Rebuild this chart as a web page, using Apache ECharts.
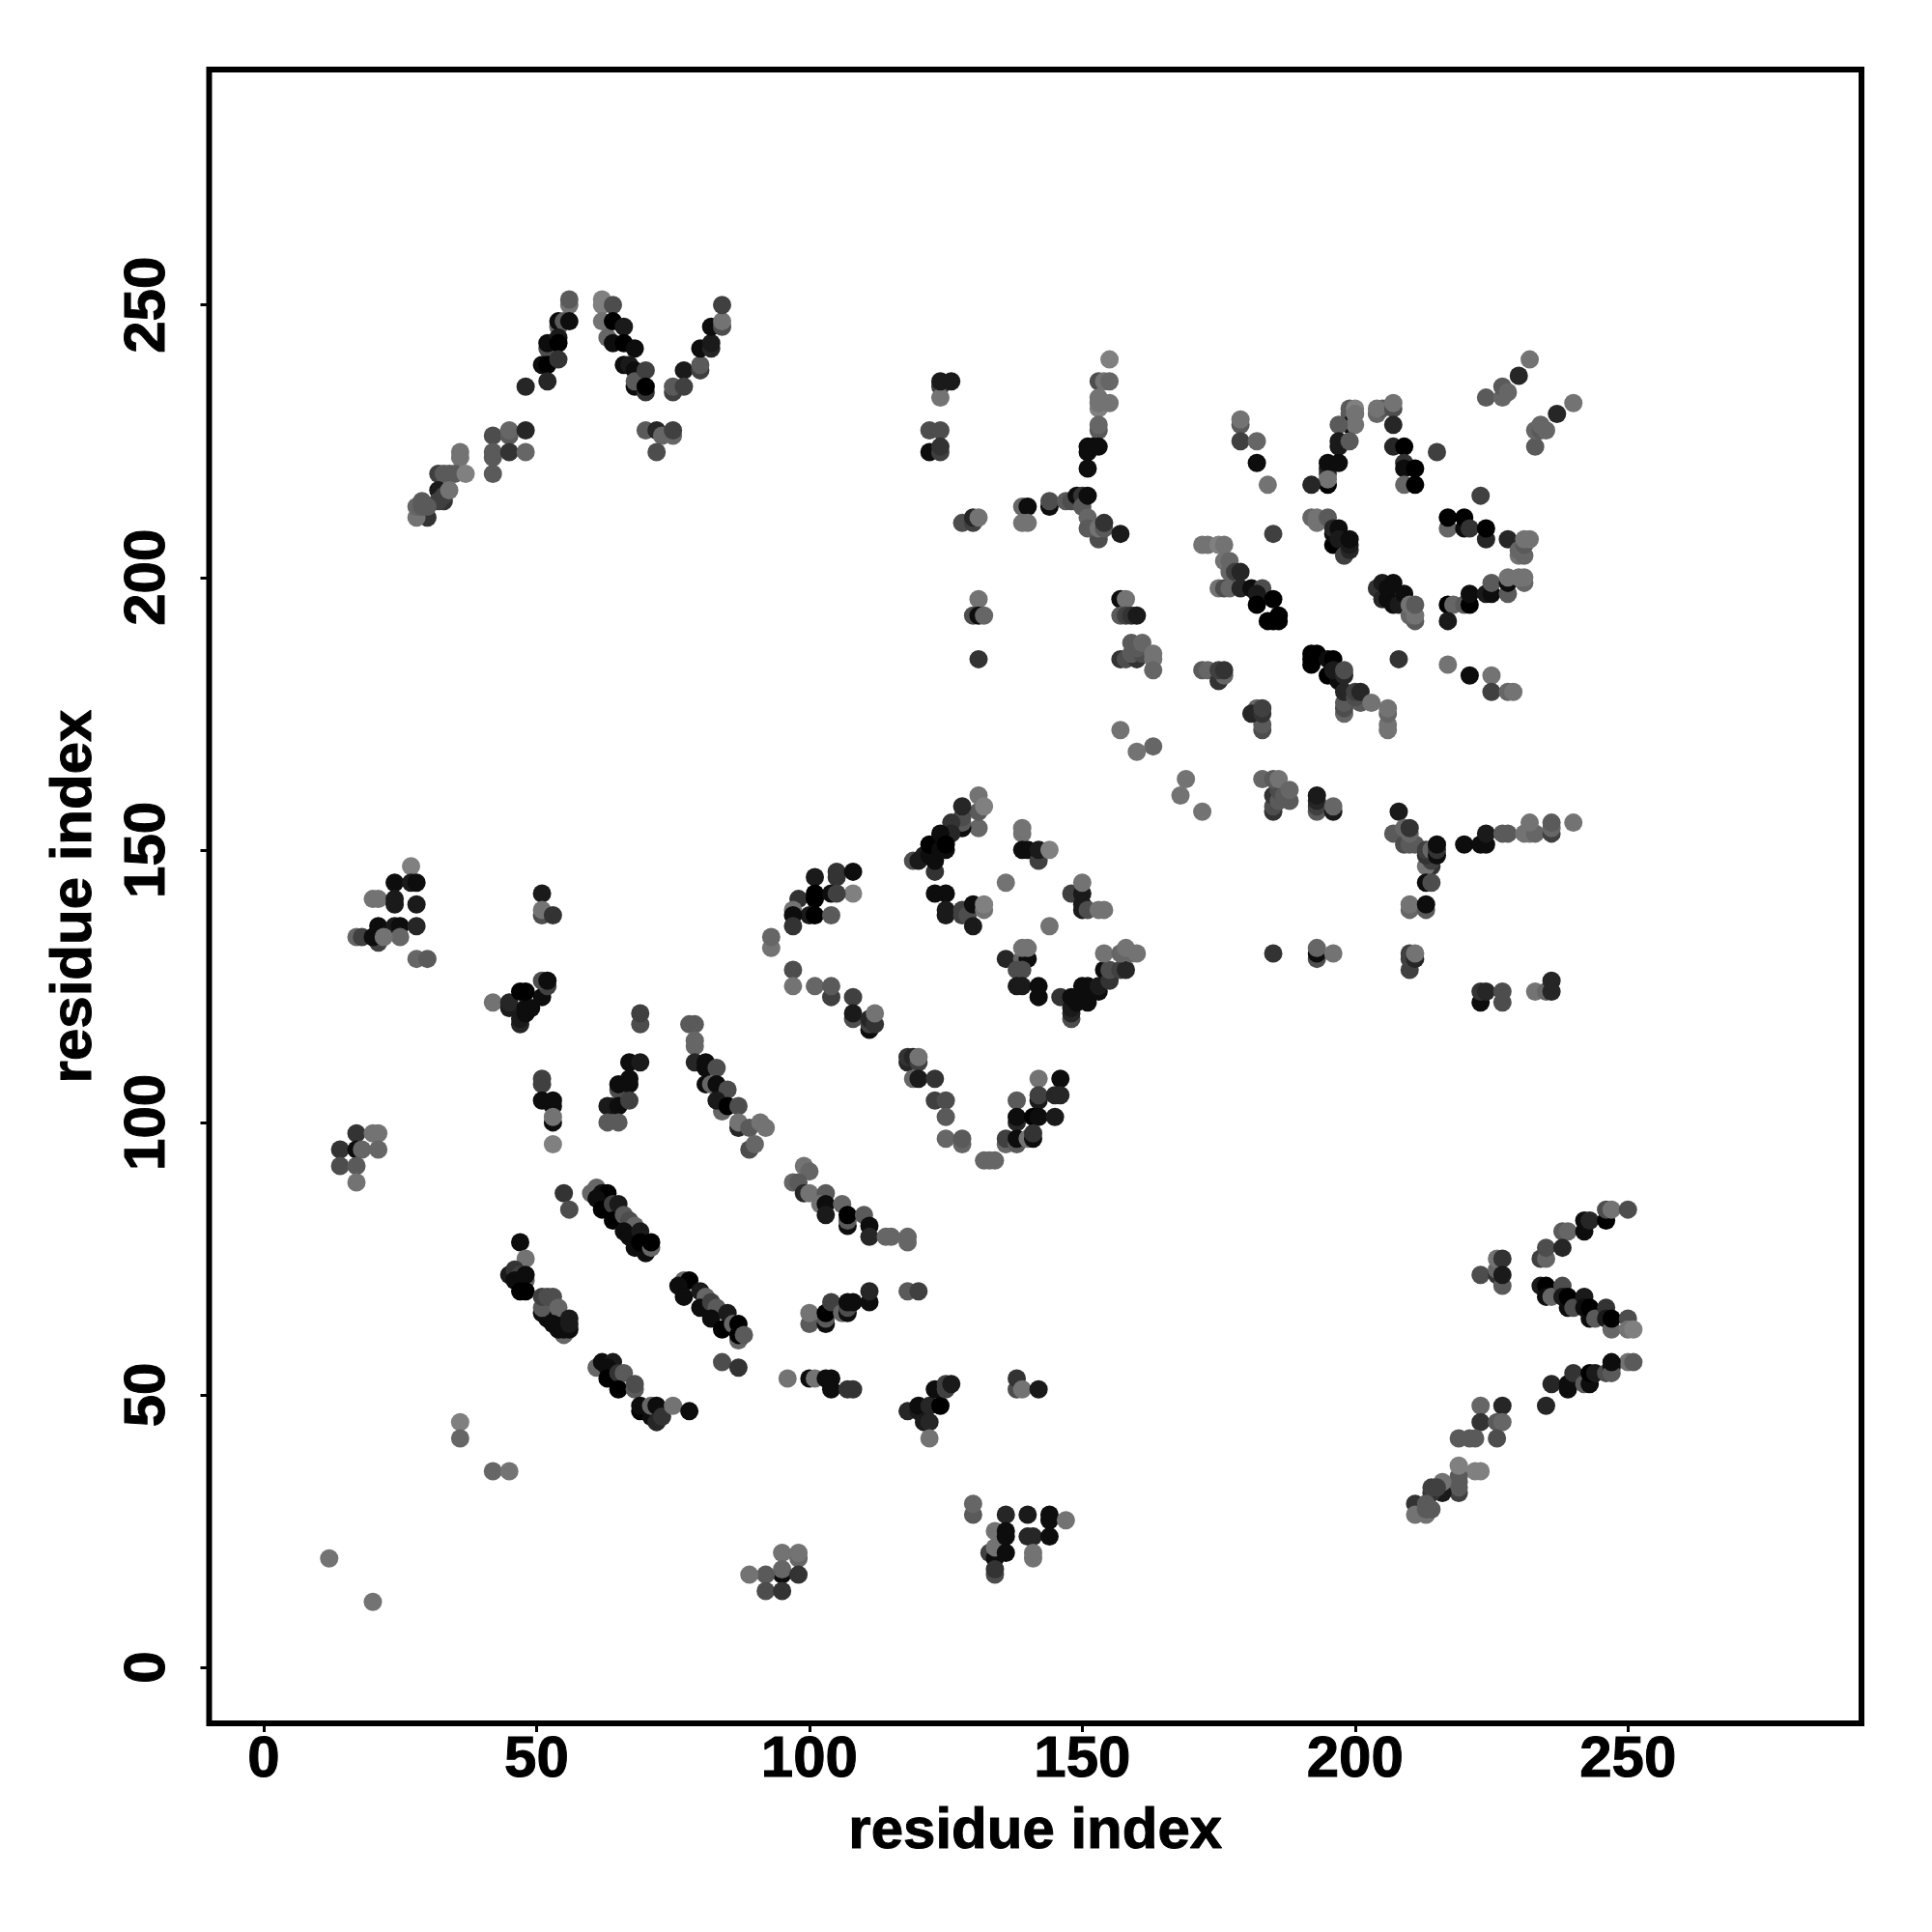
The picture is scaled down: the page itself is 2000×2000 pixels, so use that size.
<!DOCTYPE html>
<html><head><meta charset="utf-8">
<style>html,body{margin:0;padding:0;background:#fff}#c{width:2000px;height:2000px}</style>
<script src="https://cdn.jsdelivr.net/npm/echarts@6/dist/echarts.min.js"></script>
</head><body><div id="c"></div>
<script>
// each contact: [residue x, residue y, strength 0..10]
const topLeft=[[56,250,1],[56,251,3],[54,246,2],[54,247,9],[55,247,3],[56,247,9],[52,242,4],[52,243,9],[54,244,8],[54,243,10],[51,239,9],[52,239,10],[54,240,6],[52,236,7],[48,235,7],
[62,251,0],[62,250,0],[64,250,4],[62,247,1],[63,244,2],[64,243,9],[64,247,10],[66,246,8],[66,243,10],[68,242,9],[66,239,9],[67,239,8],[68,238,9],[68,235,9],[68,236,3],[70,238,5],[70,234,6],[70,235,10],
[75,234,5],[75,235,3],[77,238,8],[77,235,5],[80,238,5],[80,239,3],[80,242,9],[82,242,7],[82,243,8],[82,246,9],[84,246,4],[84,247,1],[84,250,5],
[70,227,3],[72,227,7],[73,226,2],[75,226,2],[75,227,5],[72,223,4],
[42,226,4],[45,226,3],[45,227,2],[48,227,7],[42,222,3],[42,223,3],[45,223,6],[48,223,2],[42,219,3],
[36,222,1],[36,223,1],[32,219,5],[33,219,3],[34,219,3],[35,219,3],[37,219,0],
[32,216,8],[33,214,6],[32,214,5],[33,215,5],[34,216,1],[30,211,6],[28,211,1],[30,213,3],[28,213,2],[29,213,3],[29,214,3]];
const topMid=[[124,235,5],[124,233,1],[124,236,8],[126,236,8],[122,227,4],[124,227,4],[122,223,9],[124,223,5],[124,224,6],
[155,240,0],[153,236,4],[154,236,1],[155,236,2],[153,231,0],[153,232,1],[153,233,1],[155,232,1],[153,227,3],[153,228,2],
[151,223,9],[151,224,9],[152,224,9],[153,224,9],[151,220,9],
[144,213,9],[144,214,4],[147,214,3],[148,214,4],[149,215,9],[150,215,6],[150,213,3],[151,215,9],
[139,213,2],[140,213,9],[139,210,1],[140,210,1],[128,210,4],[130,210,5],[130,211,7],[131,211,1],
[153,207,4],[151,211,2],[151,209,3],[153,209,1],[154,209,3],[154,210,6],[157,208,8],
[172,206,1],[173,206,1],[175,206,0],[176,206,1],[176,203,1],[177,203,2],[177,201,2],[175,198,1],[176,198,4],[177,198,2],[178,201,5],[179,198,7],[179,201,7],
[181,198,9],[183,198,4],[182,197,8],[182,195,10],[185,196,10],[184,192,10],[185,192,10],[186,192,10],[186,193,10],
[179,228,3],[179,229,1],[179,225,5],[182,225,2],[182,221,9],[184,217,1],[185,208,5],
[131,196,1],[130,193,4],[131,193,9],[132,193,2],[131,185,6],
[157,196,9],[158,196,1],[157,193,3],[158,193,5],[159,193,6],[160,193,8],
[157,185,6],[158,185,4],[160,185,6],[159,186,3],[161,186,4],[160,187,3],[159,188,3],[161,188,2],[163,186,1],[163,185,1],[163,183,2],
[172,183,3],[173,183,2],[175,181,6],[176,182,2],[175,183,5],[176,183,6],
[182,176,2],[183,172,4],[183,173,3],[181,175,7],[183,175,6],[183,176,5],[157,172,1],[163,169,2],[160,168,1]];
const topRight=[[230,237,7],[232,240,1],[224,233,3],[227,233,2],[227,235,3],[228,234,2],
[237,230,7],[240,232,1],[233,224,3],[233,227,2],[234,227,3],[235,227,2],[234,228,2],
[199,231,3],[199,230,3],[199,228,9],[200,231,0],[200,230,1],[200,228,1],[197,228,3],[197,224,8],[197,225,8],[199,225,3],
[195,217,10],[195,219,4],[195,220,7],[195,221,9],[197,221,9],[195,218,1],[192,217,7],
[204,230,2],[205,231,3],[204,231,1],[207,231,4],[207,232,1],[207,228,7],
[207,224,7],[209,224,10],[209,221,6],[209,220,9],[211,220,10],[209,217,2],[211,217,10],[215,223,5],[223,215,5],
[192,211,2],[193,210,1],[193,211,1],[195,211,3],[196,206,10],[196,208,9],[196,209,7],[197,209,9],[197,207,8],[198,204,5],[199,205,7],[199,206,8],[199,207,9],
[217,209,2],[217,211,10],[220,209,9],[220,211,10],[221,209,6],[224,207,7],[224,209,10],[228,207,7],[230,204,1],[231,204,2],[230,205,2],[231,206,3],[231,207,1],[232,207,1],
[204,198,6],[205,199,8],[205,196,7],[206,198,9],[206,196,9],[207,195,9],[207,199,9],[208,195,8],[209,197,9],[211,192,3],[210,193,2],[211,193,1],[210,195,1],[211,195,3],
[217,195,10],[218,195,2],[217,192,8],[220,195,3],[221,195,10],[221,197,9],[224,197,8],[225,197,9],[225,199,3],[228,197,3],[228,199,9],[228,200,1],[231,199,2],[230,200,1],[231,200,1],
[192,184,10],[192,185,10],[192,186,10],[193,186,10],[195,185,9],[196,185,10],[195,182,10],[197,181,9],[196,183,8],[198,175,2],[198,176,4],[198,177,3],[198,179,7],[198,182,7],[198,183,4],
[201,177,3],[200,178,4],[200,179,5],[201,179,7],[203,177,1],[206,172,1],[206,173,1],[206,175,2],[206,176,1],[208,185,6],
[217,184,1],[221,182,9],[225,182,1],[225,179,5],[228,179,2],[229,179,1]];
const midLeft=[[27,147,0],[24,144,9],[27,144,8],[28,144,9],[20,141,1],[21,141,1],[24,140,8],[24,141,8],[28,140,8],
[21,136,9],[24,136,8],[25,136,9],[28,136,7],[17,134,2],[18,134,5],[21,133,5],[20,134,9],[25,134,2],[22,134,1],[28,130,2],[30,130,3],
[51,142,8],[51,138,4],[51,139,1],[53,138,6],
[42,122,1],[47,118,7],[47,119,8],[45,121,8],[45,122,7],[48,120,9],[48,121,9],[49,121,9],[47,124,10],[48,124,10],[51,123,9],[52,125,5],[51,126,4],[52,126,9],
[69,118,4],[69,120,5],[78,118,3],[79,118,3],[79,114,2],[79,115,2],
[79,111,7],[81,111,9],[81,110,9],[83,110,4],[81,107,9],[82,107,2],[83,107,9],[85,106,4],[84,102,2],[83,104,8],[85,103,10],[87,103,4],[87,99,7],[87,100,1],[89,99,3],[89,95,4],[90,96,2],[91,100,1],[92,99,1],
[93,132,1],[93,134,2],
[67,111,9],[69,111,8],[65,106,4],[65,107,9],[67,107,9],[67,108,9],[64,103,4],[63,103,8],[65,103,9],[67,104,5],[63,100,3],[65,100,3],
[51,107,5],[51,108,5],[51,104,9],[53,103,9],[53,104,9],[53,100,9],[53,101,1],[53,96,0],
[17,98,6],[20,98,1],[21,98,1],[14,95,6],[17,95,9],[18,95,2],[21,95,2],[14,92,4],[17,92,3],[17,89,1],
[55,87,6],[56,84,4],
[60,87,2],[61,88,2],[62,87,9],[63,87,10],[61,86,9],[62,84,10],[64,85,5],[65,85,8],[64,82,10],[66,83,3],[67,82,4],[68,81,2],[66,80,9],[67,79,9],[69,80,8],[68,77,9],[70,76,9],[69,78,10],[71,77,2],[71,78,10],[47,78,9]];
const midCenter=[[131,154,2],[131,157,3],[131,160,1],[132,158,0],
[128,154,9],[128,155,3],[128,156,4],[128,158,7],[126,155,6],[126,153,7],[119,148,4],[120,148,8],[121,149,8],[122,149,9],[123,146,6],[123,148,9],[122,151,10],[124,152,10],[124,153,9],[124,150,9],[125,150,9],[125,151,10],
[139,153,1],[139,154,1],[139,150,9],[140,150,9],[142,148,5],[142,150,8],[144,150,0],[136,144,1],
[148,142,5],[150,142,8],[150,144,1],[150,139,8],[150,140,8],[151,139,4],[153,139,1],[154,139,1],[144,136,1],
[169,163,1],[168,160,1],[172,157,1],
[185,157,6],[185,158,4],[185,160,6],[186,159,3],[186,161,4],[187,160,3],[183,163,2],[185,163,3],[186,163,1],[188,159,3],[188,161,2],
[101,145,8],[105,145,6],[105,146,6],[108,146,9],[108,142,0],[98,141,6],[97,139,1],[101,141,10],[101,142,10],[104,142,9],[105,142,5],[100,138,8],[101,138,10],[97,138,9],[104,138,3],[97,136,6],
[123,142,9],[125,142,9],[125,138,8],[125,139,8],[128,138,5],[128,139,5],[129,138,4],[130,136,8],[130,140,9],[132,139,1],[132,140,0],
[136,130,7],[139,130,2],[140,130,9],[139,132,1],[140,132,1],[138,128,4],[139,128,4],[138,125,8],[139,125,8],[142,123,9],[142,125,9],
[146,123,6],[148,119,4],[148,120,7],[148,121,8],[148,123,9],[149,122,9],[151,122,9],[150,125,9],[151,125,9],[153,124,9],[153,125,8],[154,128,9],[155,126,6],[155,128,4],[157,128,5],[158,128,7],
[154,131,1],[157,131,2],[159,131,2],[158,132,1],[160,131,1],[185,131,6],
[97,128,4],[97,125,1],[101,125,2],[104,123,5],[104,125,3],[108,123,5],[108,119,4],[108,120,8],[111,117,9],[111,118,5],[111,119,7],[112,118,6],[112,120,1],
[118,111,7],[118,112,6],[119,112,7],[120,111,5],[120,112,1],[119,108,2],[120,108,8],[123,108,6],
[123,104,5],[125,104,4],[125,101,3],[125,97,2],[128,96,2],[128,97,3],[132,93,2],[133,93,2],[134,93,2],
[142,108,1],[146,108,9],[142,104,8],[142,105,5],[145,105,7],[146,105,7],[138,104,3],[138,100,7],[138,101,9],[141,101,10],[142,101,9],[145,101,8],
[136,96,2],[136,97,5],[138,96,3],[138,97,9],[140,97,1],[141,97,9],[141,98,6],
[99,92,1],[100,91,2],[97,89,2],[98,89,3],[99,87,7],[100,87,1],[103,87,3],[102,85,1],[103,85,9],[103,83,8],[106,85,2],[107,81,9],[107,82,3],[107,83,10],[110,83,3],[111,81,9],[111,79,7],[114,79,2],[115,79,2],[118,78,2],[118,79,2]];
const midRight=[[193,157,3],[193,158,5],[193,159,7],[193,160,8],[196,157,8],[196,158,2],
[208,157,8],[207,153,3],[209,151,4],[210,151,3],[211,151,3],[209,154,2],[210,153,2],[210,154,6],
[214,147,6],[213,147,1],[214,148,5],[213,149,6],[213,150,5],[214,150,2],[215,149,9],[215,150,6],[215,151,9],
[213,144,9],[214,144,4],[210,139,2],[210,140,1],[213,139,3],[213,140,9],
[220,151,9],[223,151,9],[224,151,9],[224,153,8],[227,153,3],[228,153,3],[231,153,1],[232,153,1],[233,153,2],[232,155,1],[236,153,5],[236,154,2],[236,155,3],[240,155,1],
[193,130,4],[193,131,9],[193,132,2],[196,131,1],
[210,128,5],[210,130,5],[210,131,5],[211,130,7],[211,131,1],
[223,122,9],[223,124,6],[224,124,7],[227,122,4],[227,124,4],[233,124,1],[235,124,2],[236,126,7],[236,124,7],
[238,80,3],[239,80,2],[242,80,9],[242,82,9],[243,82,7],[246,82,10],[246,84,4],[247,84,1],[250,84,4]];
const lowLeft=[[48,75,1],[45,72,8],[46,73,6],[47,72,5],[48,71,2],[48,72,9],[46,71,9],[47,69,10],[48,69,10],
[52,64,9],[54,63,9],[51,65,9],[51,66,3],[51,68,5],[52,68,4],[53,68,4],[54,66,2],[53,63,9],[55,61,2],[54,62,9],[55,62,9],[56,62,9],[56,63,8],[56,64,8],
[77,71,2],[78,71,10],[76,70,9],[77,68,9],[80,69,8],[81,68,2],[80,66,9],[82,67,5],[83,66,3],[82,64,9],[85,65,8],[84,62,10],[86,63,2],[87,60,2],[87,63,10],[87,61,10],[88,61,3],
[84,56,4],[87,55,6],[96,53,1],
[61,55,2],[62,56,9],[64,56,8],[63,55,9],[63,53,10],[65,54,6],[66,54,3],[65,51,10],[68,51,3],[68,52,4],
[69,47,10],[69,48,9],[71,46,9],[71,48,2],[72,45,7],[72,48,9],[73,46,6],[75,48,1],[78,47,9],
[36,45,0],[36,42,2],[42,36,2],[45,36,1],[12,20,1],[20,12,1],
[95,21,1],[95,17,9],[95,18,2],[92,17,3],[89,17,1],[92,14,4],[95,14,6]];
const lowMid=[[98,20,2],[98,21,1],[98,17,6],
[100,63,3],[100,65,1],[103,63,9],[103,64,3],[103,65,10],[104,67,5],[106,65,2],[107,65,9],[107,66,4],[107,67,9],[108,67,9],[111,67,9],[111,69,7],[118,69,3],[120,69,5],
[100,53,9],[101,53,1],[103,53,9],[104,53,9],[104,51,9],[107,51,6],[108,51,6],
[118,47,7],[120,47,8],[120,48,9],[122,48,7],[124,48,10],[123,51,9],[125,52,5],[125,51,5],[126,52,8],[121,45,8],[122,45,7],[122,42,1],
[138,51,4],[138,53,6],[139,51,1],[142,51,8],
[130,28,3],[130,30,2],[136,28,7],[140,28,8],[144,27,9],[144,28,9],[147,27,1],
[134,25,1],[133,21,5],[134,20,9],[134,22,1],[136,25,9],[136,24,9],[136,21,9],[140,24,7],[141,24,7],[144,24,9],[141,20,1],[141,21,1],
[134,17,4],[134,18,6]];
const lowRight=[[223,72,4],[226,72,6],[226,73,2],[226,75,1],[227,75,6],[227,70,3],[227,72,8],
[234,75,5],[235,75,2],[235,77,4],[238,77,7],
[234,70,8],[235,70,10],[235,68,9],[236,68,2],[238,70,4],[238,68,8],[239,66,9],[239,68,10],[240,66,4],[242,68,8],[242,66,9],[243,64,9],[243,66,10],[244,64,3],[246,66,6],[246,64,8],[247,62,2],[247,64,10],[250,64,4],[250,62,1],[251,62,0],
[250,56,1],[251,56,3],
[236,52,7],[239,51,9],[239,52,9],[240,54,6],[242,52,3],[243,52,9],[243,54,10],[244,54,8],[246,54,4],[247,55,9],[247,54,3],[247,56,9],
[235,48,7],[223,48,2],[227,48,7],[223,45,6],[226,45,3],[227,45,2],[219,42,3],[221,42,3],[222,42,3],[226,42,4],
[222,36,0],[223,36,0],[219,32,5],[219,33,3],[219,34,3],[219,35,3],[219,37,0],[216,32,8],[216,34,1],[214,32,6],[214,33,5],[215,33,5],[211,30,6],[211,28,1],[213,28,1],[213,29,3],[213,30,3],[214,29,3]];
const tickValues=[0,50,100,150,200,250];
const axisTitle="residue index";

const contacts=[].concat(topLeft,topMid,topRight,midLeft,midCenter,midRight,lowLeft,lowMid,lowRight);
const font='"Liberation Sans"';
const heavy={textBorderColor:'#000',textBorderWidth:1};
const common={type:'value',nameLocation:'middle',
  axisLine:{show:false,onZero:false},splitLine:{show:false},minorTick:{show:false},
  axisTick:{show:true,customValues:tickValues,length:9,lineStyle:{color:'#000',width:3}},
  name:axisTitle,nameTextStyle:Object.assign({fontFamily:font,fontWeight:'bold',fontSize:60,color:'#000'},heavy)};
const chart=echarts.init(document.getElementById('c'),null,{renderer:'canvas',width:2000,height:2000});
chart.setOption({animation:false,backgroundColor:'#fff',
  grid:{show:true,left:216.5,top:72,width:1710.5,height:1712,borderColor:'#000',borderWidth:6,backgroundColor:'transparent'},
  xAxis:Object.assign({},common,{min:-10,max:292.8,nameGap:82,
    axisLabel:Object.assign({customValues:tickValues,margin:8,fontFamily:font,fontWeight:'bold',fontSize:60,color:'#000',hideOverlap:false},heavy)}),
  yAxis:Object.assign({},common,{min:-10.28,max:293.2,nameGap:109,
    axisLabel:Object.assign({customValues:tickValues,rotate:90,margin:33,fontFamily:font,fontWeight:'bold',fontSize:60,color:'#000',hideOverlap:false},heavy)}),
  visualMap:{show:false,type:'continuous',dimension:2,min:0,max:10,inRange:{color:['#808080','#000000']}},
  series:[{type:'scatter',data:contacts,symbol:'circle',symbolSize:19,silent:true,itemStyle:{opacity:1},large:false,progressive:0}]
});
</script></body></html>
